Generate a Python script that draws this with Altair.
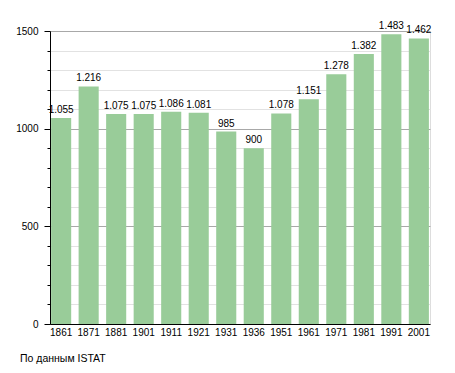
import altair as alt
import pandas as pd

years = ["1861", "1871", "1881", "1901", "1911", "1921", "1931", "1936",
         "1951", "1961", "1971", "1981", "1991", "2001"]
population = [1055, 1216, 1075, 1075, 1086, 1081, 985, 900,
              1078, 1151, 1278, 1382, 1483, 1462]
source_note = "По данным ISTAT"
y_ticks = list(range(0, 1501, 100))

df = pd.DataFrame({"year": years, "pop": population})

FONT = "Liberation Sans"

x_enc = alt.X("year:N", sort=years,
              scale=alt.Scale(paddingInner=0.27, paddingOuter=0.04),
              axis=alt.Axis(title=None, labelAngle=0, tickSize=0, labelPadding=3,
                            domainColor="black", labelFontSize=10, labelColor="black",
                            labelFont=FONT, grid=False))
y_enc = alt.Y("pop:Q", scale=alt.Scale(domain=[0, 1500], nice=False),
              axis=alt.Axis(title=None, values=y_ticks,
                            labelExpr="datum.value % 500 == 0 ? datum.label : ''",
                            labelOverlap=False, labelFlush=False, labelBound=False,
                            tickSize=alt.condition("datum.value % 500 == 0", alt.value(6), alt.value(3)),
                            gridColor=alt.condition("datum.value % 500 == 0", alt.value("#a8a8a8"), alt.value("#e2e2e2")),
                            grid=True, domainColor="black", tickColor="black",
                            labelPadding=6, labelFontSize=10, labelColor="black",
                            labelFont=FONT, format="d"))

bars = alt.Chart(df).mark_bar(color="#99cc99").encode(x=x_enc, y=y_enc)

labels = alt.Chart(df).transform_calculate(
    lab="replace(format(datum.pop, ','), ',', '.')"
).mark_text(baseline="bottom", dy=-3, fontSize=10, font=FONT, color="black").encode(
    x=x_enc, y=y_enc, text="lab:N")

note = alt.Chart(pd.DataFrame({"t": [source_note]})).mark_text(
    align="left", baseline="middle", fontSize=10.5, font=FONT, color="black"
).encode(x=alt.value(-30), y=alt.value(328), text="t:N")

chart = alt.layer(bars, labels, note).properties(
    width=380, height=293,
    autosize=alt.AutoSizeParams(type="none"),
    padding={"left": 42, "top": 23, "right": 17, "bottom": 41},
).configure_view(stroke=None).configure(background="white")

chart.save("out.html", embed_options={"renderer": "svg", "actions": False})
